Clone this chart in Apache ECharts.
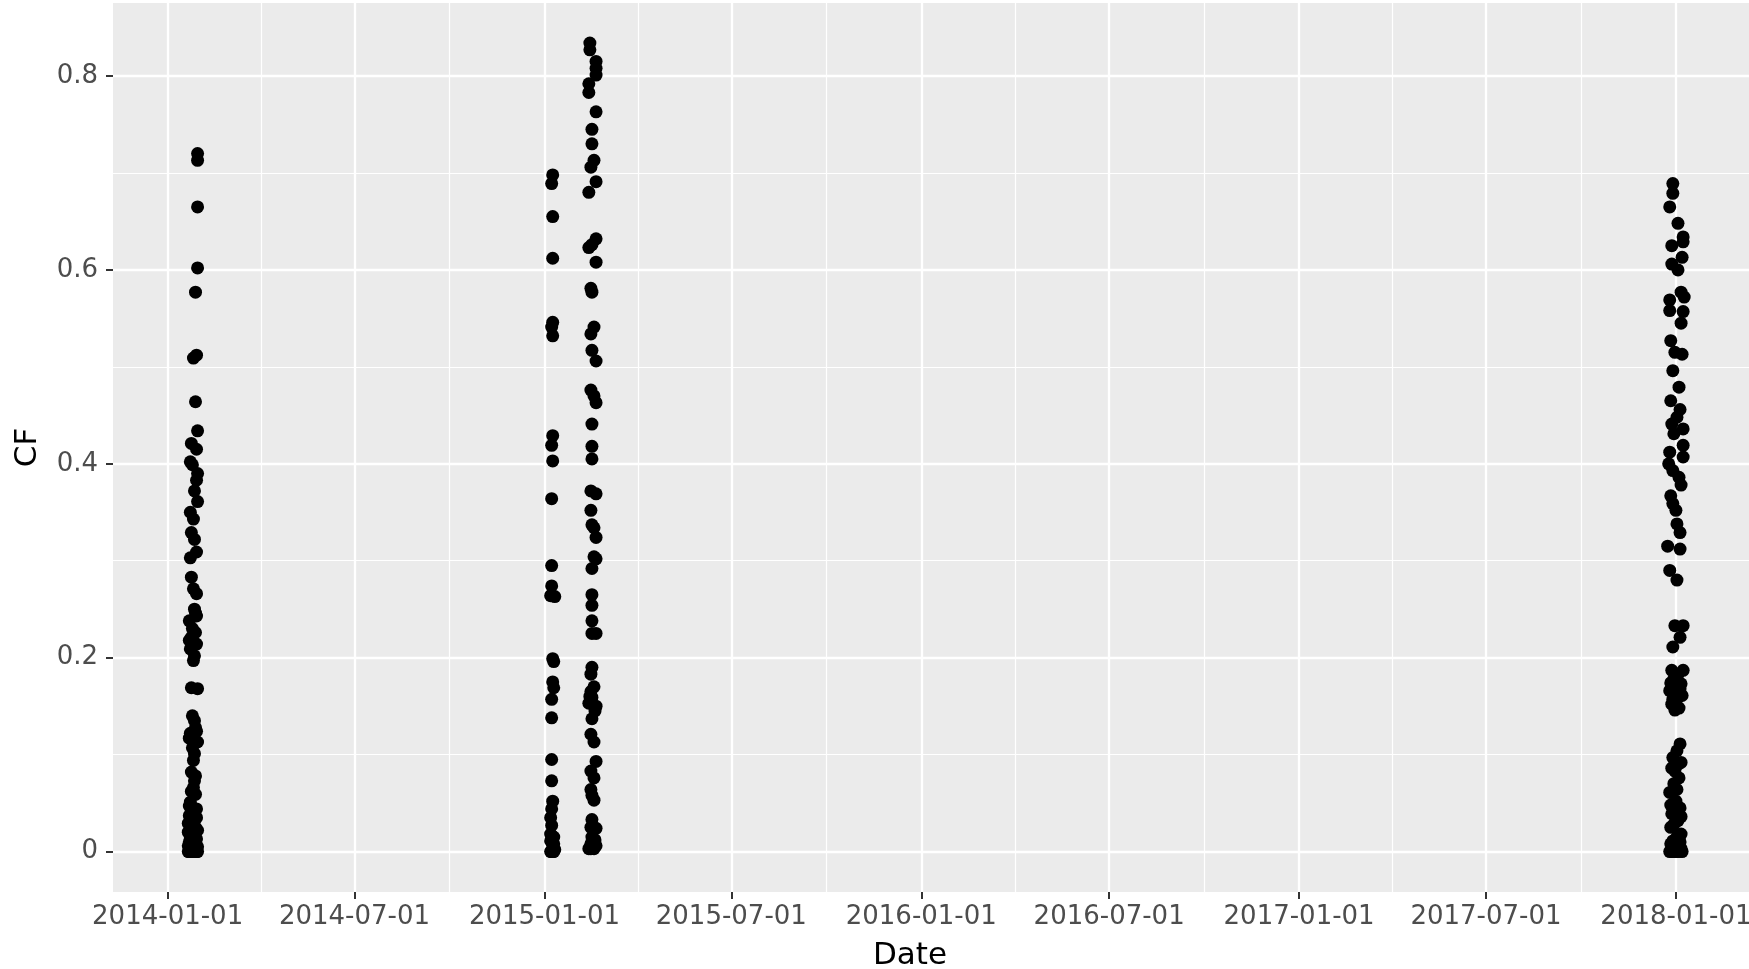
<!DOCTYPE html>
<html>
<head>
<meta charset="utf-8">
<script src="https://cdn.jsdelivr.net/npm/echarts@6/dist/echarts.min.js"></script>
<style>
html, body { margin: 0; padding: 0; background: #ffffff; }
#chart { width: 1749px; height: 969px; }
</style>
</head>
<body>
<div id="chart"></div>
<script>
// ---------------- data ----------------
const xMajorTicks = ['2014-01-01','2014-07-01','2015-01-01','2015-07-01','2016-01-01','2016-07-01','2017-01-01','2017-07-01','2018-01-01'];
const yMajorTicks = [0, 0.2, 0.4, 0.6, 0.8];
const yMinorTicks = [0.1, 0.3, 0.5, 0.7];
const xLimits = ['2013-11-09 02:00', '2018-03-12 19:00'];
const yLimits = [-0.0417, 0.8753];
const xTitle = 'Date';
const yTitle = 'CF';

const cf2014 = [
  ['2014-01-30', 0.720], ['2014-01-30', 0.713], ['2014-01-30', 0.665], ['2014-01-30', 0.602],
  ['2014-01-28', 0.577], ['2014-01-29', 0.512], ['2014-01-26', 0.509], ['2014-01-28', 0.464],
  ['2014-01-30', 0.434], ['2014-01-24', 0.421], ['2014-01-29', 0.415], ['2014-01-23', 0.402],
  ['2014-01-25', 0.399], ['2014-01-30', 0.390], ['2014-01-29', 0.383], ['2014-01-27', 0.372],
  ['2014-01-30', 0.361], ['2014-01-23', 0.350], ['2014-01-26', 0.343], ['2014-01-24', 0.329],
  ['2014-01-27', 0.322], ['2014-01-29', 0.309], ['2014-01-23', 0.303], ['2014-01-24', 0.283],
  ['2014-01-26', 0.271], ['2014-01-29', 0.266], ['2014-01-27', 0.250], ['2014-01-29', 0.243],
  ['2014-01-22', 0.238], ['2014-01-25', 0.230], ['2014-01-28', 0.226], ['2014-01-24', 0.221],
  ['2014-01-29', 0.214], ['2014-01-23', 0.209], ['2014-01-27', 0.202], ['2014-01-26', 0.197],
  ['2014-01-24', 0.169], ['2014-01-30', 0.168], ['2014-01-25', 0.140], ['2014-01-27', 0.135],
  ['2014-01-28', 0.128], ['2014-01-23', 0.122], ['2014-01-30', 0.113], ['2014-01-25', 0.107],
  ['2014-01-27', 0.101], ['2014-01-26', 0.094], ['2014-01-24', 0.082], ['2014-01-27', 0.073],
  ['2014-01-26', 0.066], ['2014-01-28', 0.059], ['2014-01-23', 0.051], ['2014-01-29', 0.044],
  ['2014-01-22', 0.037], ['2014-01-25', 0.032], ['2014-01-28', 0.025], ['2014-01-21', 0.020],
  ['2014-01-26', 0.018], ['2014-01-29', 0.013], ['2014-01-22', 0.010], ['2014-01-24', 0.008],
  ['2014-01-27', 0.004], ['2014-01-21', 0.000], ['2014-01-22', 0.000], ['2014-01-23', 0.000],
  ['2014-01-25', 0.000], ['2014-01-27', 0.000], ['2014-01-28', 0.000], ['2014-01-30', 0.000],
  ['2014-01-29', 0.000], ['2014-01-26', 0.002], ['2014-01-24', 0.000], ['2014-01-26', 0.000],
  ['2014-01-21', 0.006], ['2014-01-30', 0.005], ['2014-01-23', 0.015], ['2014-01-28', 0.012],
  ['2014-01-21', 0.029], ['2014-01-30', 0.022], ['2014-01-25', 0.041], ['2014-01-22', 0.047],
  ['2014-01-29', 0.035], ['2014-01-24', 0.062], ['2014-01-28', 0.078], ['2014-01-22', 0.117],
  ['2014-01-29', 0.124], ['2014-01-22', 0.218], ['2014-01-28', 0.246]
];

const cf2015Jan = [
  ['2015-01-09', 0.698], ['2015-01-08', 0.689], ['2015-01-09', 0.655], ['2015-01-09', 0.612],
  ['2015-01-09', 0.546], ['2015-01-08', 0.541], ['2015-01-09', 0.532], ['2015-01-09', 0.429],
  ['2015-01-08', 0.419], ['2015-01-09', 0.403], ['2015-01-08', 0.364], ['2015-01-08', 0.295],
  ['2015-01-08', 0.274], ['2015-01-07', 0.264], ['2015-01-11', 0.263], ['2015-01-09', 0.199],
  ['2015-01-10', 0.196], ['2015-01-09', 0.175], ['2015-01-10', 0.169], ['2015-01-08', 0.157],
  ['2015-01-08', 0.138], ['2015-01-08', 0.095], ['2015-01-08', 0.073], ['2015-01-09', 0.052],
  ['2015-01-08', 0.044], ['2015-01-07', 0.035], ['2015-01-08', 0.027], ['2015-01-07', 0.018],
  ['2015-01-10', 0.015], ['2015-01-07', 0.011], ['2015-01-09', 0.004], ['2015-01-07', 0.000],
  ['2015-01-08', 0.000], ['2015-01-10', 0.000], ['2015-01-09', 0.000], ['2015-01-11', 0.002],
  ['2015-01-10', 0.008]
];

const cf2015Feb = [
  ['2015-02-14', 0.834], ['2015-02-14', 0.827], ['2015-02-20', 0.815], ['2015-02-20', 0.808],
  ['2015-02-20', 0.801], ['2015-02-13', 0.792], ['2015-02-13', 0.783], ['2015-02-20', 0.763],
  ['2015-02-16', 0.745], ['2015-02-16', 0.730], ['2015-02-18', 0.713], ['2015-02-15', 0.706],
  ['2015-02-20', 0.691], ['2015-02-13', 0.680], ['2015-02-20', 0.632], ['2015-02-16', 0.626],
  ['2015-02-13', 0.623], ['2015-02-20', 0.608], ['2015-02-15', 0.581], ['2015-02-16', 0.577],
  ['2015-02-18', 0.541], ['2015-02-15', 0.534], ['2015-02-16', 0.517], ['2015-02-20', 0.506],
  ['2015-02-15', 0.476], ['2015-02-18', 0.470], ['2015-02-20', 0.463], ['2015-02-16', 0.441],
  ['2015-02-16', 0.418], ['2015-02-16', 0.405], ['2015-02-15', 0.372], ['2015-02-20', 0.369],
  ['2015-02-15', 0.352], ['2015-02-16', 0.337], ['2015-02-18', 0.334], ['2015-02-20', 0.324],
  ['2015-02-18', 0.304], ['2015-02-20', 0.302], ['2015-02-16', 0.292], ['2015-02-16', 0.265],
  ['2015-02-16', 0.254], ['2015-02-16', 0.238], ['2015-02-16', 0.225], ['2015-02-20', 0.225],
  ['2015-02-16', 0.190], ['2015-02-15', 0.183], ['2015-02-18', 0.170], ['2015-02-15', 0.165],
  ['2015-02-16', 0.159], ['2015-02-13', 0.153], ['2015-02-20', 0.150], ['2015-02-16', 0.137],
  ['2015-02-15', 0.121], ['2015-02-18', 0.113], ['2015-02-20', 0.093], ['2015-02-15', 0.083],
  ['2015-02-18', 0.076], ['2015-02-15', 0.064], ['2015-02-16', 0.058], ['2015-02-18', 0.053],
  ['2015-02-16', 0.033], ['2015-02-15', 0.025], ['2015-02-20', 0.024], ['2015-02-16', 0.015],
  ['2015-02-15', 0.008], ['2015-02-20', 0.006], ['2015-02-13', 0.003], ['2015-02-18', 0.003],
  ['2015-02-15', 0.003], ['2015-02-19', 0.145], ['2015-02-14', 0.160], ['2015-02-19', 0.012]
];

const cf2018 = [
  ['2017-12-29', 0.689], ['2017-12-29', 0.679], ['2017-12-26', 0.665], ['2018-01-03', 0.648],
  ['2018-01-08', 0.634], ['2018-01-08', 0.629], ['2017-12-28', 0.625], ['2018-01-07', 0.613],
  ['2017-12-28', 0.606], ['2018-01-03', 0.600], ['2018-01-06', 0.577], ['2018-01-09', 0.572],
  ['2017-12-26', 0.569], ['2017-12-26', 0.558], ['2018-01-08', 0.557], ['2018-01-06', 0.545],
  ['2017-12-27', 0.527], ['2017-12-31', 0.515], ['2018-01-07', 0.513], ['2017-12-29', 0.496],
  ['2018-01-04', 0.479], ['2017-12-27', 0.465], ['2018-01-05', 0.456], ['2018-01-02', 0.448],
  ['2017-12-28', 0.441], ['2018-01-08', 0.436], ['2017-12-30', 0.431], ['2018-01-08', 0.419],
  ['2017-12-26', 0.412], ['2018-01-08', 0.407], ['2017-12-25', 0.400], ['2017-12-29', 0.393],
  ['2018-01-04', 0.386], ['2018-01-06', 0.378], ['2017-12-27', 0.367], ['2017-12-29', 0.359],
  ['2018-01-01', 0.352], ['2018-01-02', 0.338], ['2018-01-05', 0.329], ['2017-12-24', 0.315],
  ['2018-01-05', 0.312], ['2017-12-26', 0.290], ['2018-01-02', 0.280], ['2017-12-31', 0.233],
  ['2018-01-08', 0.233], ['2018-01-05', 0.221], ['2017-12-29', 0.211], ['2017-12-28', 0.187],
  ['2018-01-08', 0.187], ['2018-01-01', 0.180], ['2017-12-27', 0.174], ['2018-01-06', 0.173],
  ['2017-12-26', 0.166], ['2018-01-07', 0.161], ['2018-01-03', 0.159], ['2017-12-28', 0.152],
  ['2018-01-04', 0.148], ['2017-12-31', 0.146], ['2018-01-05', 0.111], ['2018-01-02', 0.104],
  ['2017-12-29', 0.097], ['2018-01-03', 0.090], ['2017-12-31', 0.083], ['2018-01-04', 0.076],
  ['2017-12-30', 0.070], ['2017-12-26', 0.061], ['2018-01-01', 0.052], ['2018-01-05', 0.045],
  ['2017-12-28', 0.039], ['2018-01-03', 0.032], ['2017-12-27', 0.025], ['2018-01-06', 0.018],
  ['2017-12-29', 0.011], ['2018-01-04', 0.006], ['2017-12-26', 0.000], ['2017-12-28', 0.000],
  ['2018-01-01', 0.000], ['2018-01-04', 0.000], ['2018-01-07', 0.000], ['2017-12-30', 0.002],
  ['2018-01-06', 0.003], ['2018-01-03', 0.183], ['2017-12-30', 0.178], ['2018-01-05', 0.168],
  ['2017-12-29', 0.157], ['2018-01-02', 0.150], ['2018-01-06', 0.092], ['2017-12-28', 0.086],
  ['2018-01-02', 0.064], ['2017-12-27', 0.048], ['2018-01-06', 0.036], ['2017-12-30', 0.028],
  ['2018-01-02', 0.015], ['2017-12-27', 0.008], ['2018-01-05', 0.010], ['2017-12-31', 0.000],
  ['2018-01-03', 0.001]
];

// ---------------- helpers ----------------
function toTs(s) {
  const p = s.split(/[- :]/).map(Number);
  return Date.UTC(p[0], p[1] - 1, p[2], p[3] || 0, p[4] || 0);
}
const xMajorTs = xMajorTicks.map(toTs);
const xMinorTs = [];
for (let i = 0; i < xMajorTs.length - 1; i++) xMinorTs.push((xMajorTs[i] + xMajorTs[i + 1]) / 2);
const xMin = toTs(xLimits[0]);
const xMax = toTs(xLimits[1]);

const allPoints = [].concat(cf2014, cf2015Jan, cf2015Feb, cf2018).map(d => [toTs(d[0]), d[1]]);

function pad(n) { return (n < 10 ? '0' : '') + n; }
function fmtDate(v) {
  const d = new Date(v);
  return d.getUTCFullYear() + '-' + pad(d.getUTCMonth() + 1) + '-' + pad(d.getUTCDate());
}

const FONT = 'DejaVu Sans';
const TICK_TEXT = { color: '#4D4D4D', fontSize: 26, fontFamily: FONT };

const chart = echarts.init(document.getElementById('chart'), null, { renderer: 'canvas' });
chart.setOption({
  animation: false,
  backgroundColor: '#ffffff',
  grid: {
    show: true, backgroundColor: '#EBEBEB', borderWidth: 0,
    left: 113, top: 3, right: 0, bottom: 77,
    containLabel: false, outerBoundsMode: 'none'
  },
  xAxis: [
    {
      type: 'value', min: xMin, max: xMax, scale: true,
      name: xTitle, nameLocation: 'middle', nameGap: 48, nameMoveOverlap: false,
      nameTextStyle: { color: '#000000', fontSize: 31, fontFamily: FONT, padding: [0, 42, 0, 0] },
      axisLine: { show: false, onZero: false },
      axisTick: { show: true, length: 7, lineStyle: { color: '#333333', width: 2 }, customValues: xMajorTs },
      axisLabel: { show: true, margin: 12, customValues: xMajorTs, formatter: fmtDate, hideOverlap: false, showMinLabel: true, showMaxLabel: true, ...TICK_TEXT },
      splitLine: { show: true, lineStyle: { color: '#ffffff', width: 2.3 } }
    },
    {
      type: 'value', min: xMin, max: xMax, scale: true, position: 'bottom',
      axisLine: { show: false, onZero: false },
      axisTick: { show: false, customValues: xMinorTs },
      axisLabel: { show: false, customValues: xMinorTs },
      splitLine: { show: true, lineStyle: { color: '#ffffff', width: 1.2 } }
    }
  ],
  yAxis: [
    {
      type: 'value', min: yLimits[0], max: yLimits[1],
      name: yTitle, nameLocation: 'middle', nameGap: 70, nameRotate: 90, nameMoveOverlap: false,
      nameTextStyle: { color: '#000000', fontSize: 31, fontFamily: FONT },
      axisLine: { show: false, onZero: false },
      axisTick: { show: true, length: 7, lineStyle: { color: '#333333', width: 2 }, customValues: yMajorTicks },
      axisLabel: { show: true, margin: 15, customValues: yMajorTicks, formatter: v => String(v), ...TICK_TEXT },
      splitLine: { show: true, lineStyle: { color: '#ffffff', width: 2.3 } }
    },
    {
      type: 'value', min: yLimits[0], max: yLimits[1], position: 'left',
      axisLine: { show: false, onZero: false },
      axisTick: { show: false, customValues: yMinorTicks },
      axisLabel: { show: false, customValues: yMinorTicks },
      splitLine: { show: true, lineStyle: { color: '#ffffff', width: 1.2 } }
    }
  ],
  series: [{
    type: 'scatter',
    xAxisIndex: 0, yAxisIndex: 0,
    data: allPoints,
    symbol: 'circle',
    symbolSize: 13,
    itemStyle: { color: '#000000', opacity: 1 },
    emphasis: { disabled: true },
    z: 5
  }]
});
</script>
</body>
</html>
